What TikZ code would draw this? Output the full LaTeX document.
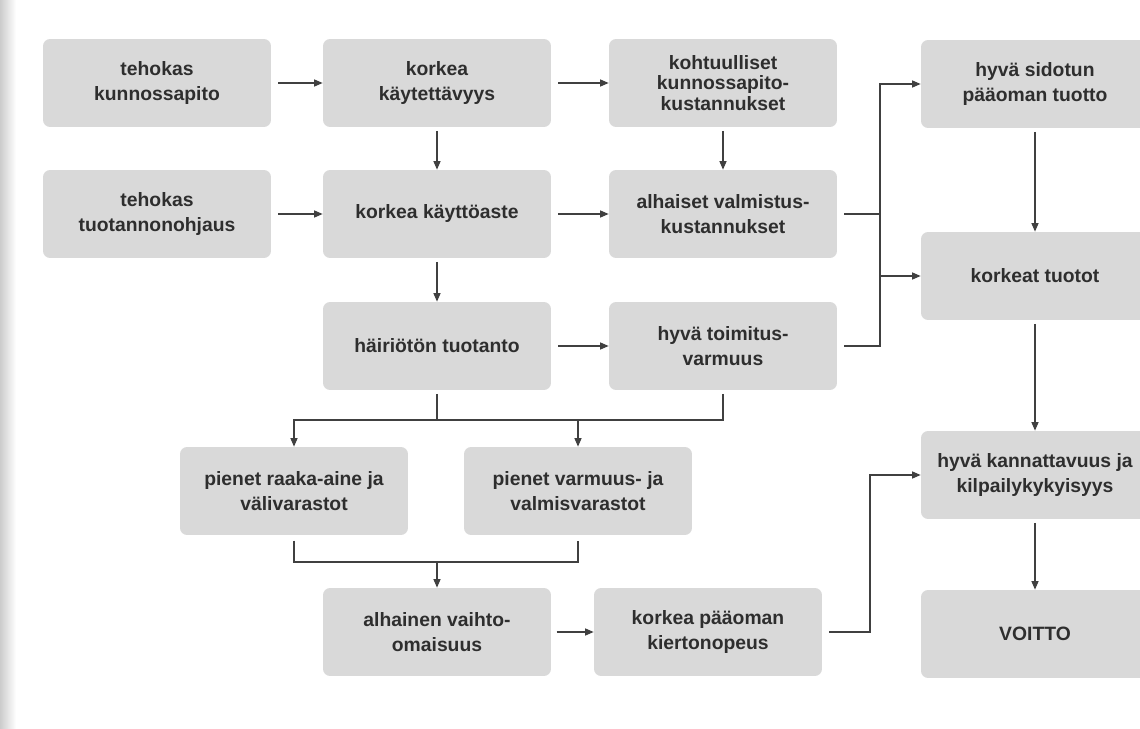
\documentclass[tikz,border=0pt]{standalone}
\usepackage{fontspec}
\setmainfont{Liberation Sans}
\usetikzlibrary{arrows.meta}
\definecolor{boxgray}{HTML}{D9D9D9}
\definecolor{inkgray}{HTML}{2E2E2E}
\definecolor{linegray}{HTML}{404040}

\begin{document}
\begin{tikzpicture}[x=0.02cm,y=-0.02cm,
every node/.style={font=\fontsize{11}{14}\selectfont\bfseries,align=center,text=inkgray},
box/.style={fill=boxgray,rounded corners=4pt,minimum width=4.56cm,minimum height=1.76cm,inner sep=2pt},
ln/.style={linegray,line width=0.7pt},
arr/.style={-{Triangle[length=1.7mm,width=1.4mm]},linegray,line width=0.7pt}]
\useasboundingbox (0,0) rectangle (1140,729);
\fill[left color=gray!40,right color=white] (0,0) rectangle (16,729);
% boxes
\node[box] (tk) at (157,83) {tehokas\\kunnossapito};
\node[box] (tt) at (157,214) {tehokas\\tuotannonohjaus};
\node[box] (kk) at (437,83) {korkea\\käytettävyys};
\node[box] (ka) at (437,214) {korkea käyttöaste};
\node[box] (ht) at (437,346) {häiriötön tuotanto};
\node[box,font=\fontsize{11}{11.8}\selectfont\bfseries] (kp) at (723,83) {kohtuulliset\\kunnossapito-\\kustannukset};
\node[box] (av) at (723,214) {alhaiset valmistus-\\kustannukset};
\node[box] (tv) at (723,346) {hyvä toimitus-\\varmuus};
\node[box] (sp) at (1035,84) {hyvä sidotun\\pääoman tuotto};
\node[box] (kt) at (1035,276) {korkeat tuotot};
\node[box] (hk) at (1035,475) {hyvä kannattavuus ja\\kilpailykykyisyys};
\node[box] (vo) at (1035,634) {VOITTO};
\node[box] (rv) at (294,491) {pienet raaka-aine ja\\välivarastot};
\node[box] (vv) at (578,491) {pienet varmuus- ja\\valmisvarastot};
\node[box] (ao) at (437,632) {alhainen vaihto-\\omaisuus};
\node[box] (kpk) at (708,632) {korkea pääoman\\kiertonopeus};
% junction points
\coordinate (jx) at (880,0);
\coordinate (jk) at (870,0);
\coordinate (js) at (0,420);
\coordinate (jm) at (0,562);
% connectors
\draw[arr,shorten <=4pt] (tk) -- (kk);
\draw[arr,shorten <=4pt] (kk) -- (kp);
\draw[arr,shorten <=4pt] (tt) -- (ka);
\draw[arr,shorten <=4pt] (ka) -- (av);
\draw[arr,shorten <=4pt] (ht) -- (tv);
\draw[arr,shorten <=3pt] (ao) -- (kpk);
\draw[arr,shorten <=2pt] (kk) -- (ka);
\draw[arr,shorten <=2pt] (ka) -- (ht);
\draw[arr,shorten <=2pt] (kp) -- (av);
\draw[ln,shorten <=4pt] (av.east) -- (jx |- av);
\draw[arr,shorten <=4pt] (tv.east) -| (jx |- sp) -- (sp.west);
\draw[arr] (jx |- kt) -- (kt.west);
\draw[arr,shorten <=2pt] (sp) -- (kt);
\draw[arr,shorten <=2pt] (kt) -- (hk);
\draw[arr,shorten <=2pt] (hk) -- (vo);
\draw[arr,shorten <=2pt] (tv.south) |- (rv.north |- js) -- (rv.north);
\draw[arr,shorten <=2pt] (ht.south) |- (vv.north |- js) -- (vv.north);
\draw[ln,shorten <=3pt,shorten >=3pt] (rv.south) |- (vv.south |- jm) -- (vv.south);
\draw[arr] (ao.north |- jm) -- (ao.north);
\draw[arr,shorten <=4pt] (kpk.east) -| (jk |- hk) -- (hk.west);
\end{tikzpicture}
\end{document}
